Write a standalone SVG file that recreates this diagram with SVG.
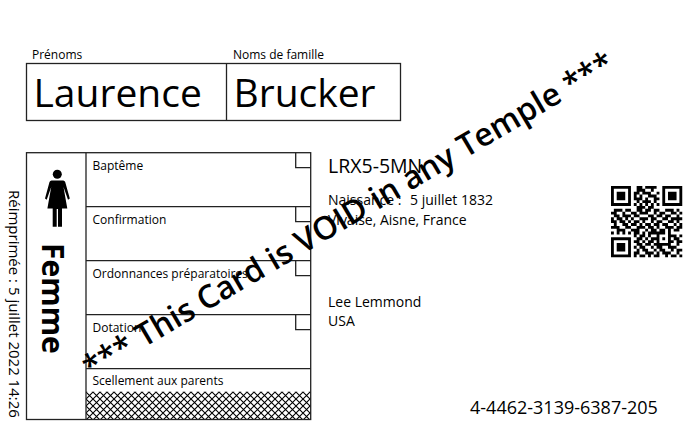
<svg xmlns="http://www.w3.org/2000/svg" width="692" height="448" viewBox="0 0 692 448">
<style>
text{font-family:"Open Sans","Noto Sans","DejaVu Sans",sans-serif;fill:#000}
.s{font-size:12px}
.m{font-size:14px}
.b{font-size:39px}
.box{fill:none;stroke:#222;stroke-width:1.3}
</style>
<defs>
<pattern id="hatch" width="7" height="7" patternUnits="userSpaceOnUse" x="86" y="392">
<path d="M0 0L7 7M7 0L0 7" stroke="#000" stroke-width="1.1" fill="none"/>
</pattern>
</defs>
<rect width="692" height="448" fill="#fff"/>
<g id="names">
<text class="s" x="32" y="59">Prénoms</text>
<text class="s" x="233" y="59">Noms de famille</text>
<rect class="box" x="26.5" y="63.5" width="374" height="57"/>
<path class="box" d="M226.5 63.5V120.5"/>
<text class="b" x="33.500" y="107">Laurence</text>
<text class="b" x="233.500" y="107">Brucker</text>
</g>
<g id="panel">
<rect x="86" y="391.7" width="224.7" height="27.8" fill="url(#hatch)"/>
<rect class="box" x="26.5" y="152.7" width="284.2" height="266.8"/>
<path class="box" d="M86 152.7V419.5M86 206.7H310.7M86 260.7H310.7M86 314.7H310.7M86 368.7H310.7"/>
<path class="box" d="M295.7 152.7V167.7H310.7M295.7 206.7V221.7H310.7M295.7 260.7V275.7H310.7M295.7 314.7V329.7H310.7"/>
<text class="s" x="92.500" y="170">Baptême</text>
<text class="s" x="92.500" y="224">Confirmation</text>
<text class="s" x="92.500" y="278">Ordonnances préparatoires</text>
<text class="s" x="92.500" y="332">Dotation</text>
<text class="s" x="92.500" y="385">Scellement aux parents</text>
</g>
<g id="gender">
<circle cx="57.300" cy="174.300" r="4.500"/>
<path d="M51.500 180.500H63.200Q64.600 180.500 65.200 182L69.800 198.500L68 199.700L63.500 187L67.300 208.500H62V226.700H58V209H56.700V226.700H52.700V208.500H47.400L51.200 187L46.700 199.700L45 198.500L49.500 182Q50.100 180.500 51.500 180.500Z"/>
<text transform="translate(41.500,243) rotate(90)" font-size="30" font-weight="700">Femme</text>
</g>
<text transform="translate(9,190) rotate(90)" font-size="15" id="reprint">Réimprimée : 5 juillet 2022 14:26</text>
<g id="details">
<text x="328" y="173" font-size="19.500">LRX5-5MN</text>
<text class="m" x="328" y="205">Naissance : <tspan dx="5">5 juillet 1832</tspan></text>
<text class="m" x="328" y="225">Vivaise, Aisne, France</text>
<text class="m" x="328" y="307">Lee Lemmond</text>
<text class="m" x="328" y="326">USA</text>
<text x="470" y="414" font-size="18">4-4462-3139-6387-205</text>
</g>
<g id="qr" transform="translate(611,186) scale(2.85)">
<path fill="none" stroke="#000" stroke-width="1" d="M0 .5h7m2 0h2m1 0h4m2 0h7
M0 1.500h1m5 0h1m2 0h3m2 0h1m3 0h1m5 0h1
M0 2.500h1m1 0h3m1 0h1m1 0h2m1 0h3m2 0h1m1 0h1m1 0h3m1 0h1
M0 3.500h1m1 0h3m1 0h1m1 0h1m1 0h1m2 0h3m2 0h1m1 0h3m1 0h1
M0 4.500h1m1 0h3m1 0h1m1 0h3m1 0h1m2 0h2m1 0h1m1 0h3m1 0h1
M0 5.500h1m5 0h1m2 0h1m1 0h3m1 0h1m2 0h1m5 0h1
M0 6.500h7m1 0h1m1 0h1m1 0h1m1 0h1m1 0h1m1 0h7
M9 7.500h3m1 0h2
M1 8.500h3m1 0h2m2 0h2m1 0h2m1 0h2m2 0h3m1 0h1
M0 9.500h2m2 0h1m2 0h2m1 0h3m2 0h1m1 0h2m2 0h2m1 0h1
M1 10.500h2m1 0h3m1 0h2m3 0h2m1 0h2m1 0h2m2 0h1
M0 11.500h1m1 0h2m1 0h1m1 0h1m2 0h3m1 0h2m2 0h2m1 0h4
M0 12.500h2m1 0h2m1 0h1m1 0h2m1 0h1m2 0h1m1 0h2m2 0h2m1 0h1
M1 13.500h1m2 0h2m1 0h2m1 0h1m1 0h2m1 0h2m1 0h2m2 0h1m1 0h1
M0 14.500h3m2 0h2m2 0h3m1 0h2m1 0h1m2 0h3m1 0h2
M2 15.500h3m2 0h3m2 0h1m1 0h2m1 0h2m1 0h1m1 0h2
M0 16.500h1m1 0h1m1 0h1m1 0h1m1 0h2m1 0h1m1 0h6m1 0h1
M8 17.500h1m1 0h2m1 0h1m2 0h1m3 0h3m1 0h1
M0 18.500h7m2 0h2m1 0h1m1 0h3m1 0h1m1 0h1m1 0h2
M0 19.500h1m5 0h1m1 0h2m1 0h1m1 0h2m1 0h1m3 0h2m1 0h2
M0 20.500h1m1 0h3m1 0h1m2 0h2m1 0h2m1 0h6m2 0h1
M0 21.500h1m1 0h3m1 0h1m1 0h1m1 0h2m2 0h1m1 0h2m2 0h3
M0 22.500h1m1 0h3m1 0h1m2 0h1m1 0h2m2 0h1m1 0h2m2 0h1m1 0h2
M0 23.500h1m5 0h1m1 0h2m2 0h3m1 0h1m1 0h3m2 0h1
M0 24.500h7m1 0h1m1 0h2m1 0h1m1 0h2m2 0h1m1 0h2m1 0h1"/>
</g>
<text id="void" transform="translate(91,379) rotate(-30.500)" font-size="32" font-weight="600">*** This Card is VOID in any Temple ***</text>
</svg>
